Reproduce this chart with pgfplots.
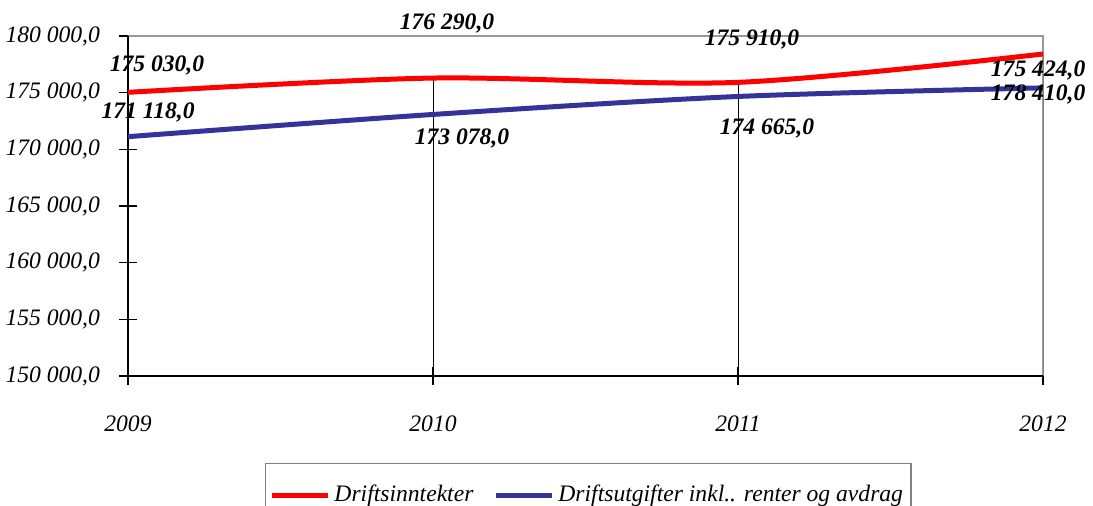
\documentclass[border=0pt]{standalone}
\usepackage{fontspec}
\setmainfont{Liberation Serif}
\usepackage{pgfplots}
\pgfplotsset{compat=1.18}
\definecolor{redl}{RGB}{255,0,0}
\definecolor{bluel}{RGB}{51,51,153}
\begin{document}
\begin{tikzpicture}
\useasboundingbox (-64pt,-64.5pt) rectangle (482.5pt,188pt);
\begin{axis}[
  at={(0,0)}, anchor=south west,
  scale only axis, width=457.5pt, height=170pt,
  xmin=2009, xmax=2012, ymin=150000, ymax=180000,
  scaled y ticks=false, scaled x ticks=false,
  xtick={2009,2010,2011,2012},
  xticklabels={2009,2010,2011,2012},
  ytick={150000,155000,160000,165000,170000,175000,180000},
  yticklabels={{150 000,0},{155 000,0},{160 000,0},{165 000,0},{170 000,0},{175 000,0},{180 000,0}},
  tick pos=left, tick align=center,
  major tick length=9pt,
  tick style={black, line width=0.6pt},
  axis line style={draw=none},
  ticklabel style={font=\fontsize{11.8}{13}\selectfont\itshape},
  xticklabel style={yshift=-12pt},
  yticklabel style={xshift=-6pt},
  clip mode=individual,
  legend columns=2,
  legend style={at={(0.503,-0.255)}, anchor=north, draw=gray, line width=0.6pt,
    font=\fontsize{11.8}{13}\selectfont\itshape, inner xsep=2pt, inner ysep=9pt,
    /tikz/every even column/.append style={column sep=8pt}},
  legend cell align=left,
  legend image code/.code={\draw[#1] (0pt,0pt) -- (28pt,0pt);},
]
\draw[gray!80, line width=0.8pt] (rel axis cs:0,1) -- (rel axis cs:1,1) -- (rel axis cs:1,0);
\addplot[ycomb, black, line width=0.5pt, forget plot] coordinates {(2009,175030) (2010,176290) (2011,175910) (2012,178410)};
\draw[black, line width=0.8pt] (rel axis cs:0,1) -- (rel axis cs:0,0) -- (rel axis cs:1,0);
\addplot[redl, line width=2.5pt, smooth, tension=0.5] coordinates {(2009,175030) (2010,176290) (2011,175910) (2012,178410)};
\addlegendentry{Driftsinntekter}
\addplot[bluel, line width=2.5pt, smooth, tension=0.5] coordinates {(2009,171118) (2010,173078) (2011,174665) (2012,175424)};
\addlegendentry{Driftsutgifter inkl.. renter og avdrag}
\begin{scope}[every node/.style={font=\fontsize{11.8}{13}\selectfont\bfseries\itshape, inner sep=0pt}]
\node at (axis cs:2009.095,177441) {175 030,0};
\node at (axis cs:2009.066,173294) {171 118,0};
\node at (axis cs:2010.046,181147) {176 290,0};
\node at (axis cs:2011.046,179735) {175 910,0};
\node at (axis cs:2010.095,171000) {173 078,0};
\node at (axis cs:2011.095,171882) {174 665,0};
\node at (axis cs:2011.984,177000) {175 424,0};
\node at (axis cs:2011.984,174882) {178 410,0};
\end{scope}
\end{axis}
\end{tikzpicture}
\end{document}
